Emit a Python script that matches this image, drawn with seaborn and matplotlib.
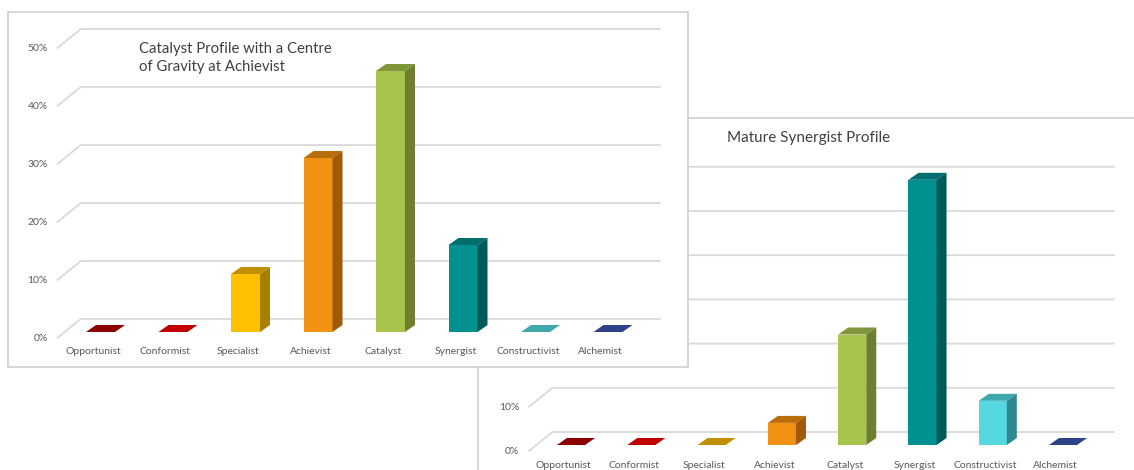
import numpy as np
import pandas as pd
import matplotlib
matplotlib.use("Agg")
import matplotlib.pyplot as plt
import seaborn as sns
from matplotlib.patches import Polygon
from matplotlib.transforms import ScaledTranslation

categories = ["Opportunist", "Conformist", "Specialist", "Achievist",
              "Catalyst", "Synergist", "Constructivist", "Alchemist"]
catalyst_values = [0.0, 0.0, 0.10, 0.30, 0.45, 0.15, 0.0, 0.0]
synergist_values = [0.0, 0.0, 0.0, 0.05, 0.25, 0.60, 0.10, 0.0]
catalyst_ticks = [0.0, 0.1, 0.2, 0.3, 0.4, 0.5]
catalyst_tick_labels = ["0%", "10%", "20%", "30%", "40%", "50%"]
synergist_ticks = [0.0, 0.1, 0.2, 0.3, 0.4, 0.5, 0.6]
synergist_tick_labels = ["0%", "10%", "20%", "30%", "40%", "50%", "60%"]
catalyst_title = "Catalyst Profile with a Centre\nof Gravity at Achievist"
synergist_title = "Mature Synergist Profile"

front_colors = ["#B00000", "#F00000", "#FFC000", "#F39112",
                "#A9C44A", "#009090", "#56D8E0", "#3C56B0"]
top_colors = ["#8B0000", "#C00000", "#C09000", "#B86E0A",
              "#80963A", "#006E6E", "#40A8AC", "#2E4288"]
side_colors = ["#600000", "#900000", "#A88000", "#A05A08",
               "#6E8030", "#005A5A", "#2E8A8E", "#1E2E60"]

W, H = 1134, 470
sns.set_theme(style="white")
plt.rcParams['font.family'] = ['Lato', 'DejaVu Sans']

fig = plt.figure(figsize=(W / 100, H / 100), dpi=100)


def rect(x0, y0, x1, y1):
    return [x0 / W, 1 - y1 / H, (x1 - x0) / W, (y1 - y0) / H]


GRID = "#D9D9D9"
BORDER = "#D0D0D0"
LABEL = "#595959"
FRONT = (-7.5, -6.5)
BACK = (16.5, 13.0)
DEPTH = (10.0, 7.0)


def frame(r, z):
    ax = fig.add_axes(r, zorder=z)
    ax.set_facecolor("white")
    ax.set_xticks([])
    ax.set_yticks([])
    for s in ax.spines.values():
        s.set_color(BORDER)
        s.set_linewidth(1.2)
        s.set_visible(True)
    return ax


def shifted(ax, x, y, dx, dy):
    X, Y = ax.transData.transform((x, y))
    return ax.transData.inverted().transform((X + dx, Y + dy))


def panel(ax, values, ticks, tick_labels):
    df = pd.DataFrame({"category": categories, "share": values})
    sns.barplot(data=df, x="category", y="share", hue="category",
                palette=front_colors, saturation=1, width=0.4, legend=False,
                ax=ax, linewidth=0, zorder=3)
    ax.set_xlim(-0.5, len(categories) - 0.5)
    ax.set_ylim(0, ticks[-1])
    ax.axis("off")
    x_left, x_right = ax.get_xlim()
    off = lambda dx, dy: ax.transData + ScaledTranslation(dx / 100, dy / 100, fig.dpi_scale_trans)
    for t, lab in zip(ticks, tick_labels):
        a = shifted(ax, x_left, t, *FRONT)
        b = shifted(ax, x_left, t, *BACK)
        c = shifted(ax, x_right, t, *BACK)
        ax.plot([a[0], b[0], c[0]], [a[1], b[1], c[1]], color=GRID, lw=1.3,
                clip_on=False, zorder=1, solid_capstyle="butt")
        ax.text(x_left, t, lab, transform=off(FRONT[0] - 9, FRONT[1]),
                ha="right", va="center", fontsize=7.5, color=LABEL)
    for i, cat in enumerate(categories):
        ax.text(i, 0, cat, transform=off(FRONT[0], -20),
                ha="center", va="center", fontsize=7.5, color=LABEL)
    for p in ax.patches:
        x0 = p.get_x()
        w = p.get_width()
        h = p.get_height()
        x1 = x0 + w
        idx = int(round(x0 + w / 2))
        top = [(x0, h), (x1, h), tuple(shifted(ax, x1, h, *DEPTH)),
               tuple(shifted(ax, x0, h, *DEPTH))]
        ax.add_patch(Polygon(top, closed=True, facecolor=top_colors[idx],
                             edgecolor="none", clip_on=False, zorder=4))
        if h > 0:
            side = [(x1, 0), (x1, h), tuple(shifted(ax, x1, h, *DEPTH)),
                    tuple(shifted(ax, x1, 0, *DEPTH))]
            ax.add_patch(Polygon(side, closed=True, facecolor=side_colors[idx],
                                 edgecolor="none", clip_on=False, zorder=4))


# right panel (behind)
frame(rect(478, 118, 1145, 480), 1)
ax_r = fig.add_axes(rect(535.9, 179.8, 1098.2, 445), zorder=2)
panel(ax_r, synergist_values, synergist_ticks, synergist_tick_labels)

# left panel (front)
frame(rect(8, 12, 688, 367), 3)
ax_l = fig.add_axes(rect(64.25, 42, 644.25, 332), zorder=4)
panel(ax_l, catalyst_values, catalyst_ticks, catalyst_tick_labels)

fig.text(139 / W, 1 - 42 / H, catalyst_title, ha="left", va="top",
         fontsize=10.7, color="#404040", linespacing=1.4, zorder=10)
fig.text(727 / W, 1 - 138 / H, synergist_title, ha="left", va="center",
         fontsize=11, color="#404040", zorder=10)

fig.savefig("out.png", dpi=100, facecolor="white")
